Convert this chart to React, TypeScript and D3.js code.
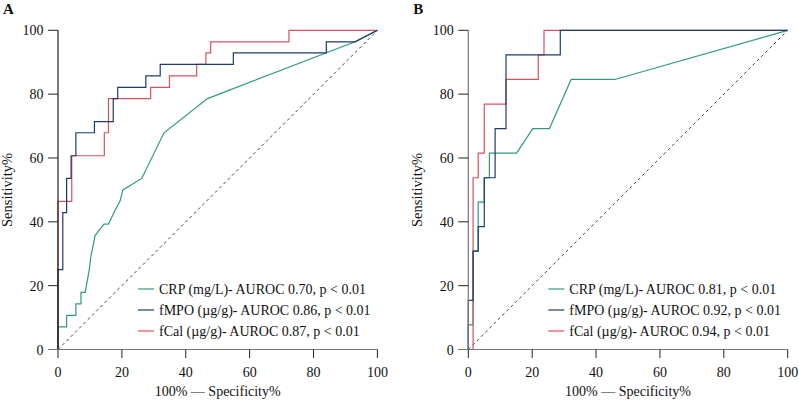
import React from 'react';
import * as d3 from 'd3';

const ticks = [0, 20, 40, 60, 80, 100];
const seriesNames = ['CRP (mg/L)', 'fMPO (µg/g)', 'fCal (µg/g)'];
const aurocA = ['0.70', '0.86', '0.87'];
const aurocB = ['0.81', '0.92', '0.94'];
const colors = ['#2f9a80', '#1f3b6b', '#d9535f'];

// [100% - specificity, sensitivity]
const crpA: [number, number][] = [
  [0, 0], [0, 7.1], [2.7, 7.1], [2.7, 10.7], [5.6, 10.7], [5.6, 14.3], [7.2, 14.3], [7.2, 17.9],
  [8.5, 17.9], [9.8, 25], [10.2, 28.6], [11.6, 35.7], [14.4, 39.3], [15.8, 39.3], [17.9, 43.7],
  [19.4, 46.4], [20.3, 50], [26.2, 53.6], [33.2, 67.9], [46.8, 78.6], [93, 96.4], [100, 100],
];
const fmpoA: [number, number][] = [
  [0, 0], [0, 25], [1.5, 25], [1.5, 42.9], [2.7, 42.9], [2.7, 53.6], [4.1, 53.6], [4.1, 60.7],
  [5.6, 60.7], [5.6, 67.9], [11.4, 67.9], [11.4, 71.4], [17.3, 71.4], [17.3, 78.6], [18.7, 78.6],
  [18.7, 82.1], [27.5, 82.1], [27.5, 85.7], [32, 85.7], [32, 89.3], [54.9, 89.3], [54.9, 92.9],
  [84, 92.9], [84, 96.4], [93, 96.4], [100, 100],
];
const fcalA: [number, number][] = [
  [0, 0], [0, 46.4], [4.3, 46.4], [4.3, 60.7], [14.5, 60.7], [14.5, 67.9], [15.8, 67.9], [15.8, 78.6],
  [29, 78.6], [29, 82.1], [34.9, 82.1], [34.9, 85.7], [43.4, 85.7], [43.4, 89.3], [46.3, 89.3],
  [46.3, 92.9], [47.8, 92.9], [47.8, 96.4], [72.3, 96.4], [72.3, 100], [100, 100],
];
const crpB: [number, number][] = [
  [0, 0], [0, 7.7], [1.5, 7.7], [1.5, 30.8], [3.1, 30.8], [3.1, 46.2], [5, 46.2], [5, 53.8],
  [6.6, 53.8], [6.6, 61.5], [15.1, 61.5], [20.2, 69.2], [25.4, 69.2], [32.2, 84.6], [45.9, 84.6],
  [100, 100],
];
const fmpoB: [number, number][] = [
  [0, 0], [0, 15.4], [1.5, 15.4], [1.5, 30.8], [3.1, 30.8], [3.1, 38.5], [5, 38.5], [5, 53.8],
  [8.4, 53.8], [8.4, 69.2], [11.8, 69.2], [11.8, 92.3], [28.8, 92.3], [28.8, 100], [100, 100],
];
const fcalB: [number, number][] = [
  [0, 0], [1.5, 0], [1.5, 53.8], [3.1, 53.8], [3.1, 61.5], [5, 61.5], [5, 76.9], [11.8, 76.9],
  [11.8, 84.6], [21.9, 84.6], [21.9, 92.3], [23.7, 92.3], [23.7, 100], [100, 100],
];

const FONT = '"Liberation Serif", "Times New Roman", serif';

type PanelProps = {
  label: string;
  x0: number;
  series: [number, number][][];
  auroc: string[];
  yAxisColor: string;
};

function Panel({ label, x0, series, auroc, yAxisColor }: PanelProps) {
  const x = d3.scaleLinear().domain([0, 100]).range([x0, x0 + 319.4]);
  const y = d3.scaleLinear().domain([0, 100]).range([349.5, 30.3]);
  const line = d3.line<[number, number]>().x(d => x(d[0])).y(d => y(d[1]));
  const drawOrder = [0, 2, 1];
  return (
    <g>
      <text x={x0 - 55} y={13.5} fontFamily={FONT} fontWeight="bold" fontSize={15} fill="#111">{label}</text>
      {/* diagonal reference */}
      <line x1={x(0)} y1={y(0)} x2={x(100)} y2={y(100)} stroke="#444" strokeWidth={1} strokeDasharray="3,3" />
      {drawOrder.map(i => (
        <path key={i} d={line(series[i]) || ''} fill="none" stroke={colors[i]} strokeWidth={1.2} />
      ))}
      {/* y axis */}
      <line x1={x0} y1={y(0)} x2={x0} y2={y(100)} stroke={yAxisColor} strokeWidth={1.2} />
      {ticks.map(t => (
        <g key={'y' + t}>
          <line x1={x0 - 10} x2={x0} y1={y(t)} y2={y(t)} stroke="#222" strokeWidth={1} />
          <text x={x0 - 14.5} y={y(t) + 5} textAnchor="end" fontFamily={FONT} fontSize={14} fill="#111">{t}</text>
        </g>
      ))}
      {/* x axis */}
      <line x1={x0 - 10} y1={y(0)} x2={x(100)} y2={y(0)} stroke="#777" strokeWidth={1.2} />
      {ticks.map(t => (
        <g key={'x' + t}>
          <line x1={x(t)} x2={x(t)} y1={y(0)} y2={y(0) + 8.5} stroke="#222" strokeWidth={1} />
          <text x={x(t)} y={376.5} textAnchor="middle" fontFamily={FONT} fontSize={14} fill="#111">{t}</text>
        </g>
      ))}
      <text x={x(50)} y={395.5} textAnchor="middle" fontFamily={FONT} fontSize={14} fill="#111">100% — Specificity%</text>
      <text transform={`translate(${x0 - 46},${y(50)}) rotate(-90)`} textAnchor="middle" fontFamily={FONT} fontSize={14.5} fill="#111">Sensitivity%</text>
      {/* legend */}
      {[0, 1, 2].map(i => {
        const ly = 289 + i * 21;
        return (
          <g key={'l' + i}>
            <line x1={x0 + 80} x2={x0 + 96} y1={ly} y2={ly} stroke={colors[i]} strokeWidth={1.2} />
            <text x={x0 + 101} y={ly + 5} fontFamily={FONT} fontSize={14} fill="#111">
              {`${seriesNames[i]}- AUROC ${auroc[i]}, p < 0.01`}
            </text>
          </g>
        );
      })}
    </g>
  );
}

export default function App() {
  return (
    <svg width={799} height={402} style={{ position: 'absolute', left: 0, top: 0, background: '#fff' }}>
      <rect width={799} height={402} fill="#fff" />
      <Panel label="A" x0={58} series={[crpA, fmpoA, fcalA]} auroc={aurocA} yAxisColor="#222" />
      <Panel label="B" x0={468.3} series={[crpB, fmpoB, fcalB]} auroc={aurocB} yAxisColor="#777" />
    </svg>
  );
}
